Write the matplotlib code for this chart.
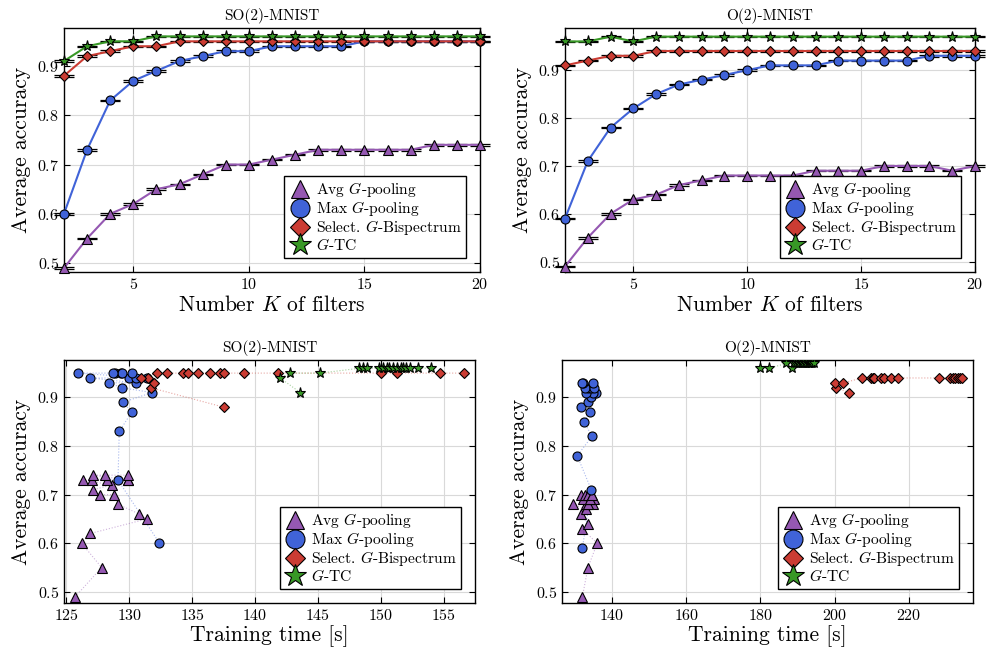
import numpy as np
import matplotlib
matplotlib.use("Agg")
import matplotlib.pyplot as plt
from matplotlib.lines import Line2D

plt.rcParams['font.family'] = 'cmr10'
plt.rcParams['mathtext.fontset'] = 'cm'
plt.rcParams['axes.formatter.use_mathtext'] = True

# ---- data ----
K = list(range(2, 21))

so2_avg = [0.49, 0.55, 0.60, 0.62, 0.65, 0.66, 0.68, 0.70, 0.70, 0.71, 0.72, 0.73, 0.73, 0.73, 0.73, 0.73, 0.74, 0.74, 0.74]
so2_max = [0.60, 0.73, 0.83, 0.87, 0.89, 0.91, 0.92, 0.93, 0.93, 0.94, 0.94, 0.94, 0.94, 0.95, 0.95, 0.95, 0.95, 0.95, 0.95]
so2_bsp = [0.88, 0.92, 0.93, 0.94, 0.94, 0.95, 0.95, 0.95, 0.95, 0.95, 0.95, 0.95, 0.95, 0.95, 0.95, 0.95, 0.95, 0.95, 0.95]
so2_gtc = [0.91, 0.94, 0.95, 0.95, 0.96, 0.96, 0.96, 0.96, 0.96, 0.96, 0.96, 0.96, 0.96, 0.96, 0.96, 0.96, 0.96, 0.96, 0.96]

o2_avg = [0.49, 0.55, 0.60, 0.63, 0.64, 0.66, 0.67, 0.68, 0.68, 0.68, 0.68, 0.69, 0.69, 0.69, 0.70, 0.70, 0.70, 0.69, 0.70]
o2_max = [0.59, 0.71, 0.78, 0.82, 0.85, 0.87, 0.88, 0.89, 0.90, 0.91, 0.91, 0.91, 0.92, 0.92, 0.92, 0.92, 0.93, 0.93, 0.93]
o2_bsp = [0.91, 0.92, 0.93, 0.93, 0.94, 0.94, 0.94, 0.94, 0.94, 0.94, 0.94, 0.94, 0.94, 0.94, 0.94, 0.94, 0.94, 0.94, 0.94]
o2_gtc = [0.96, 0.96, 0.97, 0.96, 0.97, 0.97, 0.97, 0.97, 0.97, 0.97, 0.97, 0.97, 0.97, 0.97, 0.97, 0.97, 0.97, 0.97, 0.97]

# training times [s] per K
so2_avg_t = [125.7, 127.8, 126.2, 126.9, 131.4, 130.8, 129.1, 128.8, 127.7, 127.1, 128.6, 126.3, 127.0, 128.2, 129.9, 129.9, 127.1, 128.1, 129.9]
so2_max_t = [132.4, 129.1, 129.2, 130.2, 129.5, 131.8, 129.4, 128.4, 130.5, 126.9, 130.0, 130.5, 131.4, 125.9, 128.9, 129.3, 129.4, 130.2, 128.7]
so2_bsp_t = [137.5, 131.7, 132.0, 131.5, 130.9, 132.2, 133.0, 134.3, 134.7, 135.5, 136.4, 137.2, 137.5, 139.1, 141.8, 150.0, 151.3, 154.7, 156.6]
so2_gtc_t = [143.6, 142.0, 142.8, 145.2, 148.3, 148.6, 148.9, 149.9, 150.2, 150.5, 150.7, 151.0, 151.3, 151.6, 151.8, 152.0, 152.3, 153.0, 154.0]

o2_avg_t = [132.0, 133.5, 136.0, 131.8, 133.4, 131.6, 133.1, 129.5, 132.9, 134.9, 133.5, 135.2, 133.8, 132.2, 131.5, 132.7, 133.5, 134.0, 134.6]
o2_max_t = [132.0, 134.4, 130.6, 134.6, 132.4, 134.0, 131.5, 133.5, 134.4, 135.8, 134.9, 133.1, 133.5, 134.4, 132.6, 135.2, 132.2, 134.9, 131.8]
o2_bsp_t = [203.9, 200.5, 200.0, 202.3, 207.5, 209.8, 210.3, 210.7, 212.6, 213.2, 215.3, 217.1, 228.1, 231.0, 231.8, 232.5, 233.2, 233.8, 234.4]
o2_gtc_t = [179.8, 182.3, 187.0, 188.4, 189.0, 189.5, 190.0, 190.4, 190.8, 191.2, 191.6, 192.0, 192.3, 192.7, 193.0, 193.4, 193.7, 194.0, 194.5]

acc_std = 0.0015

labels = ['Avg $G$-pooling', 'Max $G$-pooling', 'Select. $G$-Bispectrum', '$G$-TC']
colors = ['#9558B2', '#4063D8', '#CB3C33', '#389826']
markers = ['^', 'o', 'D', '*']
msizes = [6.5, 6.5, 5.0, 8.0]


def style_axes(ax):
    ax.grid(True, color='#d9d9d9', linewidth=0.8)
    ax.set_axisbelow(True)
    ax.tick_params(direction='in', top=True, right=True, length=4, labelsize=11.5)
    for s in ax.spines.values():
        s.set_linewidth(1.0)


def add_legend(ax):
    handles = [Line2D([], [], linestyle='none', marker=m, markersize=ms * 2.1,
                      markerfacecolor=c, markeredgecolor='black', markeredgewidth=0.8)
               for c, m, ms in zip(colors, markers, msizes)]
    ax.legend(handles, labels, loc='lower right', fontsize=11.2, frameon=True,
              fancybox=False, edgecolor='black', framealpha=1.0,
              labelspacing=0.0, handletextpad=0.3, borderpad=0.3,
              handlelength=1.4, bbox_to_anchor=(0.985, 0.025))


def plot_vs_k(ax, series, title, ylim):
    for vals, c, m, ms in zip(series, colors, markers, msizes):
        ax.errorbar(K, vals, yerr=acc_std, fmt='none', ecolor='black',
                    elinewidth=0.9, capsize=7, capthick=0.9, zorder=2, clip_on=False)
        ax.plot(K, vals, color=c, linewidth=1.5, marker=m, markersize=ms,
                markerfacecolor=c, markeredgecolor='black', markeredgewidth=0.8,
                zorder=3, clip_on=False)
    ax.set_xlim(2, 20)
    ax.set_ylim(*ylim)
    ax.set_xticks([5, 10, 15, 20])
    ax.set_yticks([0.5, 0.6, 0.7, 0.8, 0.9])
    ax.set_title(title, fontsize=11)
    ax.set_xlabel('Number $K$ of filters', fontsize=15.5, labelpad=2)
    ax.set_ylabel('Average accuracy', fontsize=15.5, labelpad=4)
    style_axes(ax)
    add_legend(ax)


def plot_vs_time(ax, series, times, title, xlim, xticks):
    for vals, t, c, m, ms in zip(series, times, colors, markers, msizes):
        ax.plot(t, vals, color=c, linewidth=0.8, linestyle=':', alpha=0.45, zorder=2)
        ax.plot(t, vals, linestyle='none', marker=m, markersize=ms,
                markerfacecolor=c, markeredgecolor='black', markeredgewidth=0.8,
                zorder=3)
    ax.set_xlim(*xlim)
    ax.set_ylim(0.477, 0.977)
    ax.set_xticks(xticks)
    ax.set_yticks([0.5, 0.6, 0.7, 0.8, 0.9])
    ax.set_title(title, fontsize=11)
    ax.set_xlabel('Training time [s]', fontsize=15.5, labelpad=2)
    ax.set_ylabel('Average accuracy', fontsize=15.5, labelpad=4)
    style_axes(ax)
    add_legend(ax)


fig = plt.figure(figsize=(9.87, 6.55), dpi=100)
ax1 = fig.add_axes([0.0648, 0.5847, 0.4215, 0.3725])
ax2 = fig.add_axes([0.5724, 0.5847, 0.4154, 0.3725])
ax3 = fig.add_axes([0.0648, 0.0794, 0.4164, 0.3710])
ax4 = fig.add_axes([0.5694, 0.0794, 0.4164, 0.3710])

plot_vs_k(ax1, [so2_avg, so2_max, so2_bsp, so2_gtc], 'SO(2)-MNIST', (0.482, 0.977))
plot_vs_k(ax2, [o2_avg, o2_max, o2_bsp, o2_gtc], 'O(2)-MNIST', (0.4785, 0.988))
plot_vs_time(ax3, [so2_avg, so2_max, so2_bsp, so2_gtc],
             [so2_avg_t, so2_max_t, so2_bsp_t, so2_gtc_t],
             'SO(2)-MNIST', (124.8, 157.5), [125, 130, 135, 140, 145, 150, 155])
plot_vs_time(ax4, [o2_avg, o2_max, o2_bsp, o2_gtc],
             [o2_avg_t, o2_max_t, o2_bsp_t, o2_gtc_t],
             'O(2)-MNIST', (126.5, 237.3), [140, 160, 180, 200, 220])

fig.savefig('out.png', dpi=100)
